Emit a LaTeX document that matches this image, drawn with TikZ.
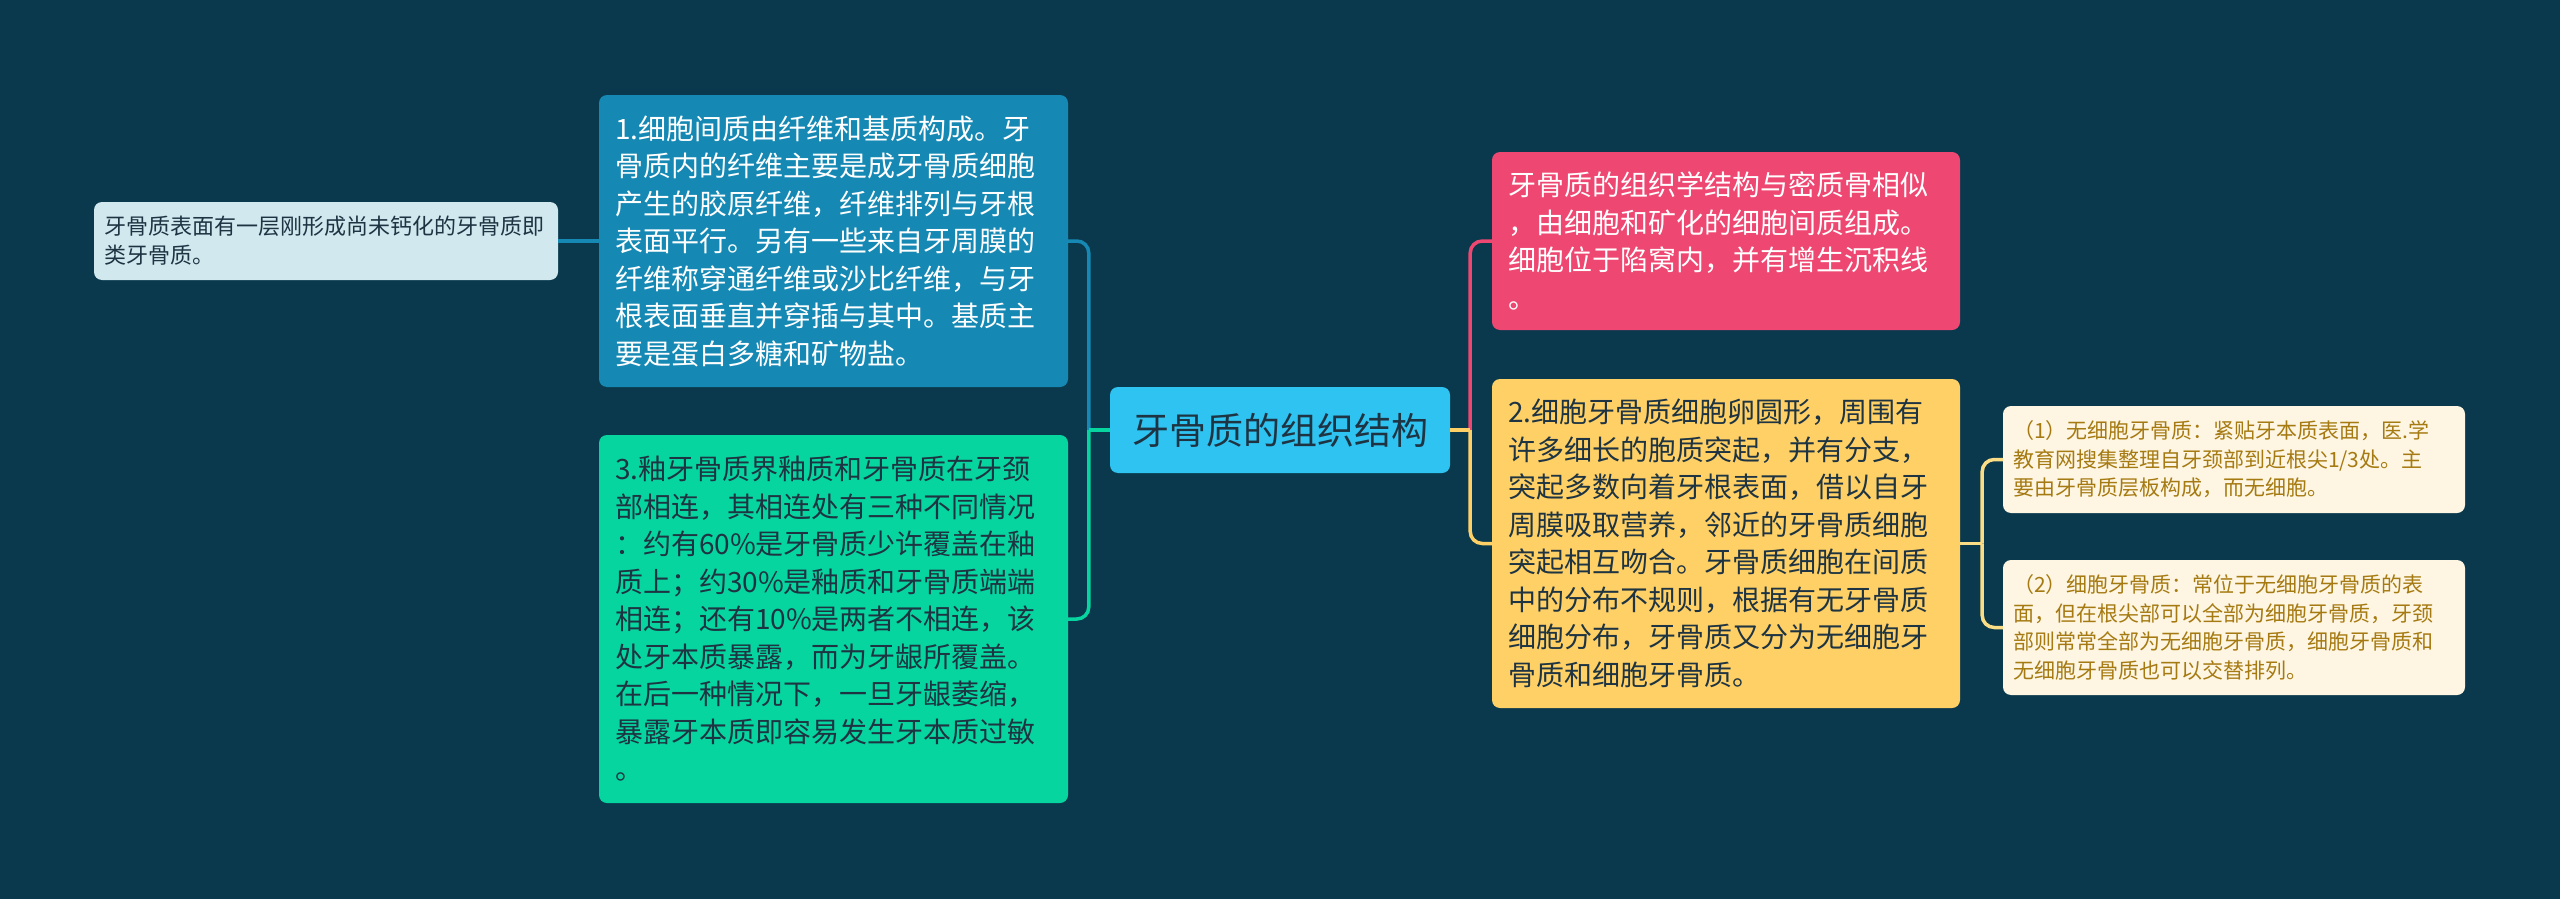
\documentclass[tikz,border=0pt]{standalone}
\usepackage{fontspec}
\setmainfont{Noto Sans CJK SC}
\usepackage{xcolor}
\usetikzlibrary{calc}

\definecolor{bgdark}{HTML}{0A394D}
\definecolor{rootblue}{HTML}{2FC3F2}
\definecolor{seablue}{HTML}{1589B4}
\definecolor{mint}{HTML}{07D5A0}
\definecolor{rose}{HTML}{EE4771}
\definecolor{sun}{HTML}{FED066}
\definecolor{cream}{HTML}{FEF6E2}
\definecolor{ochre}{HTML}{A67A12}
\definecolor{paleblue}{HTML}{D1E8EF}
\definecolor{inkdark}{HTML}{1E3442}
\definecolor{sunline}{HTML}{FBDD85}

\begin{document}
\begin{tikzpicture}[x=1pt, y=-1pt,
    box/.style={rectangle, rounded corners=8pt, inner xsep=16pt, inner ysep=0pt, align=left,
                font=\fontsize{28pt}{37.5pt}\selectfont},
    small/.style={rectangle, rounded corners=8pt, inner xsep=10pt, inner ysep=0pt, align=left,
                font=\fontsize{21pt}{28.5pt}\selectfont},
    link/.style={line width=3.5pt}]

    \fill [bgdark] (0, 0) rectangle (2560, 899);
    \useasboundingbox (0, 0) rectangle (2560, 899);

    \node [box, fill=rootblue, text=inkdark, align=center, minimum width=340pt, minimum height=86pt,
           font=\fontsize{37pt}{44pt}\selectfont] (root) at (1280, 430) {牙骨质的组织结构};

    % left side
    \node [box, fill=seablue, text=white, text width=437pt, minimum height=292pt] (fibre) at (833.5, 241)
        {1.细胞间质由纤维和基质构成。牙\\骨质内的纤维主要是成牙骨质细胞\\产生的胶原纤维，纤维排列与牙根\\表面平行。另有一些来自牙周膜的\\纤维称穿通纤维或沙比纤维，与牙\\根表面垂直并穿插与其中。基质主\\要是蛋白多糖和矿物盐。};
    \node [box, fill=mint, text=inkdark, text width=437pt, minimum height=368pt] (junction) at (833.5, 619)
        {3.釉牙骨质界釉质和牙骨质在牙颈\\部相连，其相连处有三种不同情况\\：约有60\%是牙骨质少许覆盖在釉\\质上；约30\%是釉质和牙骨质端端\\相连；还有10\%是两者不相连，该\\处牙本质暴露，而为牙龈所覆盖。\\在后一种情况下，一旦牙龈萎缩，\\暴露牙本质即容易发生牙本质过敏\\。};
    \node [small, fill=paleblue, text=inkdark, text width=444pt, minimum height=78pt,
           font=\fontsize{22pt}{29pt}\selectfont] (precem) at (326, 241)
        {牙骨质表面有一层刚形成尚未钙化的牙骨质即\\类牙骨质。};

    % right side
    \node [box, fill=rose, text=white, text width=436pt, minimum height=178pt] (histo) at (1726, 241)
        {牙骨质的组织学结构与密质骨相似\\，由细胞和矿化的细胞间质组成。\\细胞位于陷窝内，并有增生沉积线\\。};
    \node [box, fill=sun, text=inkdark, text width=436pt, minimum height=329pt] (cellular) at (1726, 543.5)
        {2.细胞牙骨质细胞卵圆形，周围有\\许多细长的胞质突起，并有分支，\\突起多数向着牙根表面，借以自牙\\周膜吸取营养，邻近的牙骨质细胞\\突起相互吻合。牙骨质细胞在间质\\中的分布不规则，根据有无牙骨质\\细胞分布，牙骨质又分为无细胞牙\\骨质和细胞牙骨质。};
    \node [small, fill=cream, text=ochre, text width=442pt, minimum height=107pt] (acell) at (2234, 459.5)
        {（1）无细胞牙骨质：紧贴牙本质表面，医.学\\教育网搜集整理自牙颈部到近根尖1/3处。主\\要由牙骨质层板构成，而无细胞。};
    \node [small, fill=cream, text=ochre, text width=442pt, minimum height=135pt] (cell) at (2234, 627.5)
        {（2）细胞牙骨质：常位于无细胞牙骨质的表\\面，但在根尖部可以全部为细胞牙骨质，牙颈\\部则常常全部为无细胞牙骨质，细胞牙骨质和\\无细胞牙骨质也可以交替排列。};

    \coordinate (lj) at ($(root.west) + (-21, 0)$);
    \coordinate (rj) at ($(root.east) + (20, 0)$);
    \coordinate (sj) at ($(cellular.east) + (22, 0)$);

    \draw [link, seablue] (fibre.west) -- (precem.east);

    \draw [link, seablue, rounded corners=12pt] (lj) |- (fibre.east);
    \draw [link, mint, rounded corners=12pt] (lj) |- (junction.east);
    \draw [link, mint] (root.west) -- (lj);

    \draw [link, rose, rounded corners=12pt] (rj) |- (histo.west);
    \draw [link, sun, rounded corners=12pt] (rj) |- (cellular.west);
    \draw [link, sun] (root.east) -- (rj);

    \draw [link, sunline, rounded corners=12pt] (sj) |- (acell.west);
    \draw [link, sunline, rounded corners=12pt] (sj) |- (cell.west);
    \draw [link, sunline] (cellular.east) -- (sj);
\end{tikzpicture}
\end{document}
